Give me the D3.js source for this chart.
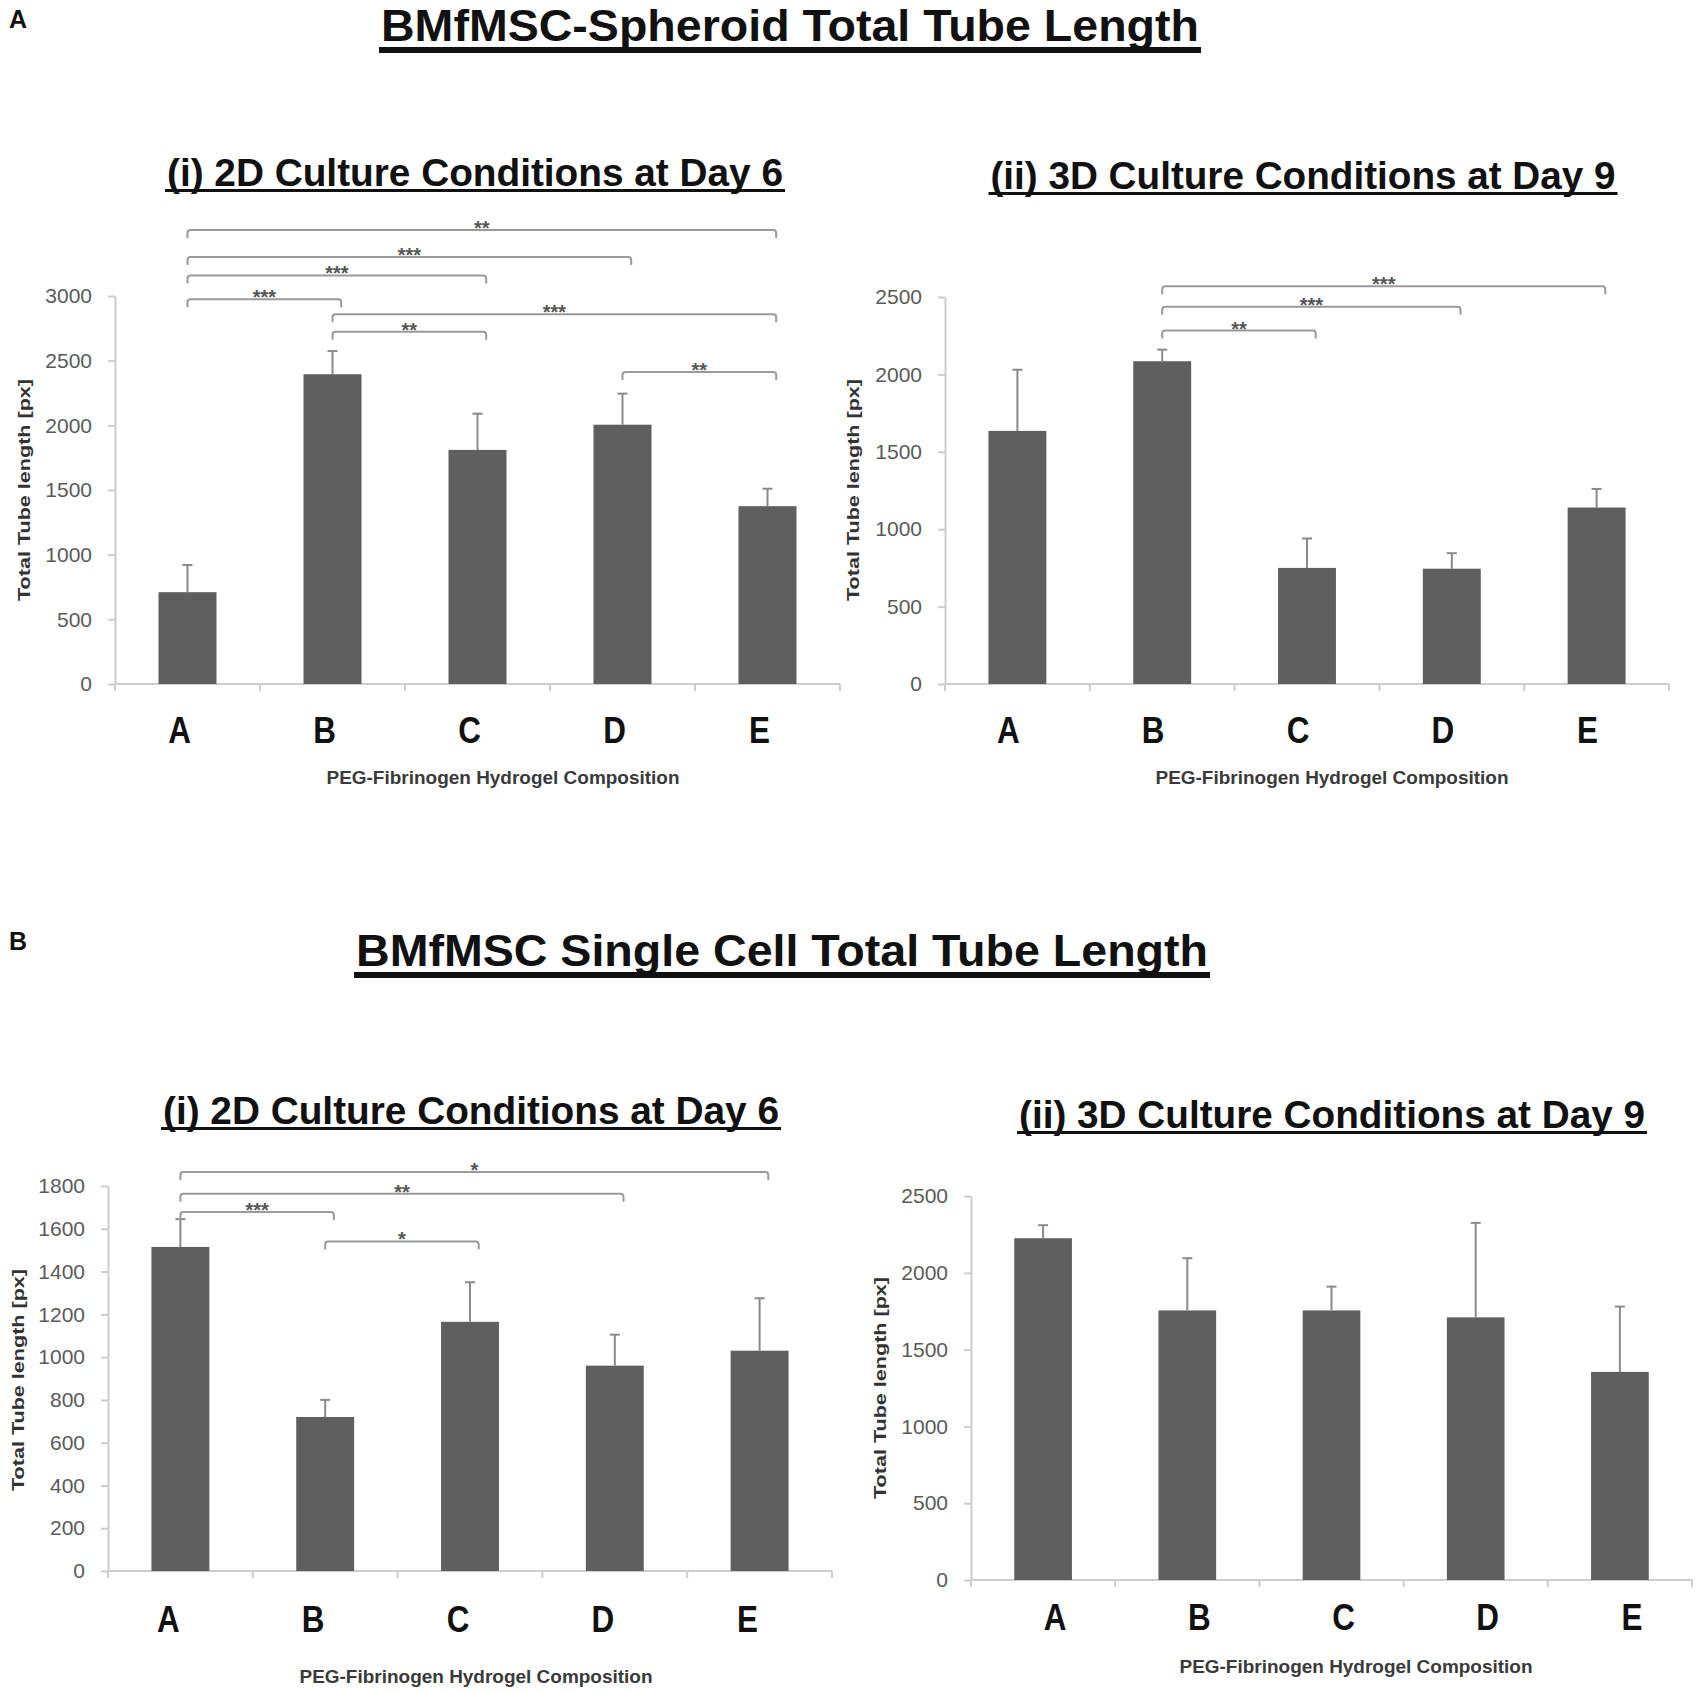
<!DOCTYPE html>
<html><head><meta charset="utf-8">
<script src="https://cdn.jsdelivr.net/npm/d3@7"></script>
<style>
body{margin:0;background:#fff}
svg{display:block}
text{font-family:"Liberation Sans",Arial,Helvetica,sans-serif}
</style>
</head><body>
<svg id="chart" width="1700" height="1693"></svg>
<script>
// ---------- data ----------
const categories = ["A", "B", "C", "D", "E"];

const spheroid2DMeans  = [710, 2395, 1810, 2005, 1375];
const spheroid2DErrors = [210, 180, 280, 240, 135];
const spheroid2DTicks  = [0, 500, 1000, 1500, 2000, 2500, 3000];
const spheroid2DSig = [
  ["A", "E", 3511, "**"],
  ["A", "D", 3302, "***"],
  ["A", "C", 3159, "***"],
  ["A", "B", 2975, "***"],
  ["B", "E", 2858, "***"],
  ["B", "C", 2723, "**"],
  ["D", "E", 2413, "**"]
];

const spheroid3DMeans  = [1635, 2085, 750, 745, 1140];
const spheroid3DErrors = [395, 75, 190, 100, 120];
const spheroid3DTicks  = [0, 500, 1000, 1500, 2000, 2500];
const spheroid3DSig = [
  ["B", "E", 2570, "***"],
  ["B", "D", 2437, "***"],
  ["B", "C", 2283, "**"]
];

const single2DMeans  = [1515, 720, 1165, 960, 1030];
const single2DErrors = [130, 80, 185, 145, 245];
const single2DTicks  = [0, 200, 400, 600, 800, 1000, 1200, 1400, 1600, 1800];
const single2DSig = [
  ["A", "E", 1866, "*"],
  ["A", "D", 1764, "**"],
  ["A", "B", 1678, "***"],
  ["B", "C", 1541, "*"]
];

const single3DMeans  = [2225, 1755, 1755, 1710, 1355];
const single3DErrors = [85, 340, 155, 615, 425];
const single3DTicks  = [0, 500, 1000, 1500, 2000, 2500];
const single3DSig = [];

const mainTitles = ["BMfMSC-Spheroid Total Tube Length", "BMfMSC Single Cell Total Tube Length"];
const panelLetters = ["A", "B"];
const subTitles = ["(i) 2D Culture Conditions at Day 6", "(ii) 3D Culture Conditions at Day 9"];
const yAxisTitle = "Total Tube length [px]";
const xAxisTitle = "PEG-Fibrinogen Hydrogel Composition";

// ---------- drawing ----------
const svg = d3.select("#chart");
const BAR = "#5f5f5f", AXIS = "#cdcdcd", ERR = "#8a8a8a", BRK = "#9a9a9a";

function drawPanel(cfg) {
  const g = svg.append("g");
  const x = d3.scaleBand().domain(categories).range([cfg.x0, cfg.x1])
    .paddingInner(0.6).paddingOuter(0.3);
  const y = d3.scaleLinear().domain([0, cfg.ticks[cfg.ticks.length - 1]])
    .range([cfg.yBase, cfg.yTop]);
  const step = x.step(), bw = x.bandwidth();
  const cx = c => x(c) + bw / 2;

  // y axis
  const ya = g.append("g").attr("transform", `translate(${cfg.x0},0)`)
    .call(d3.axisLeft(y).tickValues(cfg.ticks).tickSize(7).tickSizeOuter(0).tickPadding(16).tickFormat(d3.format("d")));
  ya.select(".domain").attr("stroke", AXIS).attr("stroke-width", 2);
  ya.selectAll(".tick line").attr("stroke", AXIS).attr("stroke-width", 2);
  ya.selectAll(".tick text").attr("fill", "#5a5a5a").attr("font-size", 21)
    .attr("font-family", "'Liberation Sans',Arial,sans-serif");

  // x axis baseline + boundary ticks
  g.append("line").attr("x1", cfg.x0).attr("x2", cfg.x1)
    .attr("y1", y(0)).attr("y2", y(0)).attr("stroke", AXIS).attr("stroke-width", 2);
  const bounds = d3.range(categories.length + 1).map(i => cfg.x0 + i * step);
  g.selectAll(".xb").data(bounds).join("line")
    .attr("x1", d => d).attr("x2", d => d)
    .attr("y1", y(0)).attr("y2", y(0) + 7)
    .attr("stroke", AXIS).attr("stroke-width", 2);

  // bars
  g.selectAll(".bar").data(categories).join("rect")
    .attr("x", c => x(c)).attr("width", bw)
    .attr("y", (c, i) => y(cfg.means[i]))
    .attr("height", (c, i) => y(0) - y(cfg.means[i]))
    .attr("fill", BAR);

  // error bars (upper only)
  g.selectAll(".err").data(categories).join("line")
    .attr("x1", c => cx(c)).attr("x2", c => cx(c))
    .attr("y1", (c, i) => y(cfg.means[i]))
    .attr("y2", (c, i) => y(cfg.means[i] + cfg.errors[i]))
    .attr("stroke", ERR).attr("stroke-width", 2);
  g.selectAll(".cap").data(categories).join("line")
    .attr("x1", c => cx(c) - 5).attr("x2", c => cx(c) + 5)
    .attr("y1", (c, i) => y(cfg.means[i] + cfg.errors[i]))
    .attr("y2", (c, i) => y(cfg.means[i] + cfg.errors[i]))
    .attr("stroke", ERR).attr("stroke-width", 2);

  // significance brackets
  cfg.sig.forEach(([a, b, lvl, lab]) => {
    const xa = cx(a), xb = cx(b) + bw * 0.15, yy = y(lvl), h = 8, r = 3;
    g.append("path")
      .attr("d", `M${xa},${yy + h} L${xa},${yy + r} Q${xa},${yy} ${xa + r},${yy} L${xb - r},${yy} Q${xb},${yy} ${xb},${yy + r} L${xb},${yy + h}`)
      .attr("fill", "none").attr("stroke", BRK).attr("stroke-width", 2);
    g.append("text").attr("x", (xa + xb) / 2).attr("y", yy + 5)
      .attr("text-anchor", "middle").attr("font-size", 20).attr("font-weight", "bold")
      .attr("fill", "#555").text(lab);
  });

  // category labels (bold, condensed)
  g.selectAll(".cat").data(categories).join("text")
    .attr("transform", c => `translate(${cx(c) + cfg.catDx},${cfg.catY}) scale(0.85,1)`)
    .attr("text-anchor", "middle").attr("font-size", 37).attr("font-weight", "bold")
    .attr("fill", "#111").text(c => c);

  // axis titles
  g.append("text").attr("transform", `translate(${cfg.yTitleX},${cfg.yTitleY}) rotate(-90)`)
    .attr("text-anchor", "middle").attr("dominant-baseline", "central")
    .attr("font-size", 16).attr("font-weight", "bold").attr("fill", "#333")
    .attr("textLength", 222).attr("lengthAdjust", "spacingAndGlyphs").text(yAxisTitle);
  g.append("text").attr("x", cfg.xTitleX).attr("y", cfg.xTitleY)
    .attr("text-anchor", "middle").attr("font-size", 18).attr("font-weight", "bold").attr("fill", "#3a3a3a")
    .attr("textLength", 353).attr("lengthAdjust", "spacingAndGlyphs").text(xAxisTitle);

  // subtitle with underline
  const w = cfg.subW;
  g.append("text").attr("x", cfg.subX).attr("y", cfg.subY)
    .attr("text-anchor", "middle").attr("font-size", 38).attr("font-weight", "bold").attr("fill", "#111")
    .attr("textLength", w - 4).attr("lengthAdjust", "spacingAndGlyphs").text(cfg.sub);
  g.append("rect").attr("x", cfg.subX - w / 2).attr("y", cfg.subY + 3).attr("width", w).attr("height", 3).attr("fill", "#111");
}

function drawTitle(txt, letter, cx, base, w, letterY) {
  svg.append("text").attr("x", cx).attr("y", base).attr("text-anchor", "middle")
    .attr("font-size", 45).attr("font-weight", "bold").attr("fill", "#111")
    .attr("textLength", w - 4).attr("lengthAdjust", "spacingAndGlyphs").text(txt);
  svg.append("rect").attr("x", cx - w / 2).attr("y", base + 6).attr("width", w).attr("height", 6).attr("fill", "#111");
  svg.append("text").attr("x", 9).attr("y", letterY).attr("font-size", 25).attr("font-weight", "bold")
    .attr("fill", "#111").text(letter);
}

drawTitle(mainTitles[0], panelLetters[0], 790, 41, 822, 28);
drawTitle(mainTitles[1], panelLetters[1], 782, 966, 856, 950);

drawPanel({means: spheroid2DMeans, errors: spheroid2DErrors, ticks: spheroid2DTicks, sig: spheroid2DSig,
  x0: 115, x1: 840, yBase: 684, yTop: 296, catY: 743, catDx: -8,
  yTitleX: 24, yTitleY: 490, xTitleX: 503, xTitleY: 784,
  sub: subTitles[0], subX: 475, subY: 186, subW: 620});
drawPanel({means: spheroid3DMeans, errors: spheroid3DErrors, ticks: spheroid3DTicks, sig: spheroid3DSig,
  x0: 945, x1: 1669, yBase: 684, yTop: 297, catY: 743, catDx: -9,
  yTitleX: 853, yTitleY: 490, xTitleX: 1332, xTitleY: 784,
  sub: subTitles[1], subX: 1303, subY: 189, subW: 629});
drawPanel({means: single2DMeans, errors: single2DErrors, ticks: single2DTicks, sig: single2DSig,
  x0: 108, x1: 832, yBase: 1571, yTop: 1186, catY: 1632, catDx: -12,
  yTitleX: 18, yTitleY: 1380, xTitleX: 476, xTitleY: 1683,
  sub: subTitles[0], subX: 471, subY: 1124, subW: 620});
drawPanel({means: single3DMeans, errors: single3DErrors, ticks: single3DTicks, sig: single3DSig,
  x0: 971, x1: 1692, yBase: 1580, yTop: 1196, catY: 1630, catDx: 12,
  yTitleX: 880, yTitleY: 1388, xTitleX: 1356, xTitleY: 1673,
  sub: subTitles[1], subX: 1332, subY: 1128, subW: 630});
</script>
</body></html>
